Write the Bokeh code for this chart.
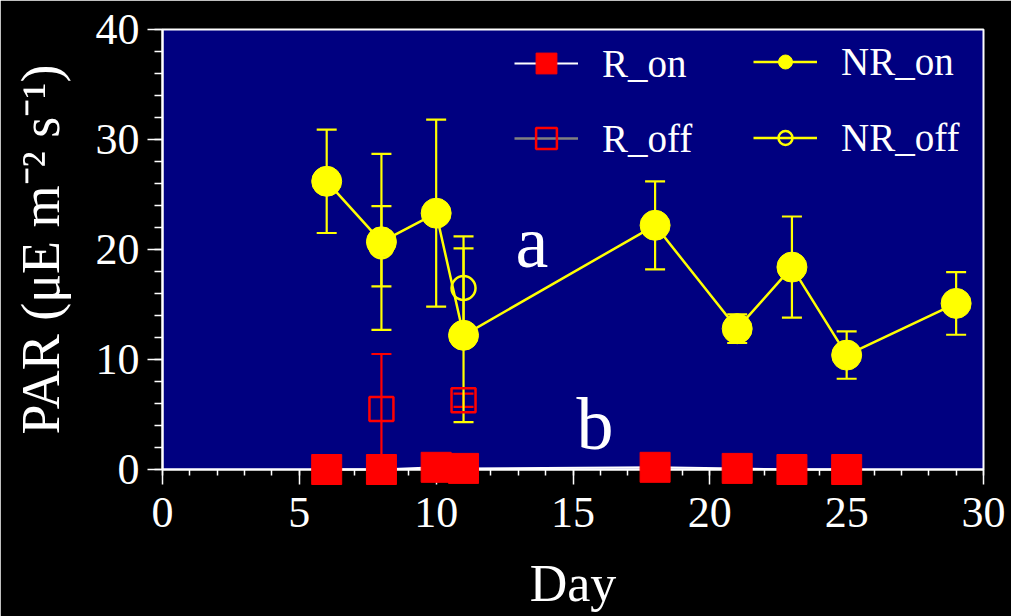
from bokeh.plotting import figure
from bokeh.models import (ColumnDataSource, Range1d, SingleIntervalTicker, Whisker,
                          TeeHead, Legend, LegendItem)
from bokeh.embed import file_html
from bokeh.resources import INLINE
from bokeh.core.properties import value

# ---------------- data ----------------
days_r_on = [6, 8, 10, 11, 18, 21, 23, 25]
par_r_on = [0.0, 0.0, 0.2, 0.1, 0.2, 0.1, 0.0, 0.0]

days_r_off = [8, 11]
par_r_off = [5.5, 6.3]
sd_r_off = [5.0, 0.6]

days_nr_on = [6, 8, 10, 11, 18, 21, 23, 25, 29]
par_nr_on = [26.2, 20.7, 23.3, 12.2, 22.2, 12.8, 18.4, 10.4, 15.1]
sd_nr_on = [4.7, 8.0, 8.5, 7.9, 4.0, 1.3, 4.6, 2.15, 2.85]

days_nr_off = [8, 11]
par_nr_off = [20.3, 16.5]
sd_nr_off = [3.65, 4.7]

series_labels = ["R_on", "R_off", "NR_on", "NR_off"]
letter_x = [13.5, 15.8]
letter_y = [20.7, 4.1]
letters = ["a", "b"]

FONT = "Liberation Serif"
NAVY = "#000080"
NAN = float("nan")


def src(days, vals, sd=None):
    d = dict(x=days, y=vals)
    if sd is not None:
        d["lo"] = [v - s for v, s in zip(vals, sd)]
        d["hi"] = [v + s for v, s in zip(vals, sd)]
    return ColumnDataSource(d)


s_r_on = src(days_r_on, par_r_on)
s_r_off = src(days_r_off, par_r_off, sd_r_off)
s_nr_on = src(days_nr_on, par_nr_on, sd_nr_on)
s_nr_off = src(days_nr_off, par_nr_off, sd_nr_off)

p = figure(width=1011, height=616, x_range=Range1d(0, 30), y_range=Range1d(0, 40),
           output_backend="svg", toolbar_location=None,
           min_border_left=162, min_border_right=28, min_border_top=29, min_border_bottom=147,
           background_fill_color=NAVY, border_fill_color="black",
           outline_line_color="white", outline_line_width=2)
p.grid.visible = False

p.xaxis.ticker = SingleIntervalTicker(interval=5, num_minor_ticks=5)
p.yaxis.ticker = SingleIntervalTicker(interval=10, num_minor_ticks=5)
for ax in (p.xaxis[0], p.yaxis[0]):
    ax.axis_line_color = "white"
    ax.axis_line_width = 2
    ax.major_tick_line_color = "white"
    ax.major_tick_line_width = 1.5
    ax.minor_tick_line_color = "white"
    ax.minor_tick_line_width = 1.5
    ax.major_tick_in = 0
    ax.minor_tick_in = 0
    ax.major_tick_out = 15
    ax.major_label_text_color = "white"
    ax.major_label_text_font = FONT
    ax.major_label_text_font_size = "44px"
    ax.axis_label_text_color = "white"
    ax.axis_label_text_font = FONT
    ax.axis_label_text_font_size = "52px"
    ax.axis_label_text_font_style = "normal"
p.xaxis.minor_tick_out = 6
p.yaxis.minor_tick_out = 8
p.xaxis.major_label_standoff = 13
p.yaxis.major_label_standoff = 8
p.xaxis.axis_label_standoff = 25
p.yaxis.axis_label_standoff = 22
p.xaxis.axis_label = "Day"
p.yaxis.axis_label = "PAR (\u03bcE m\u207b\u00b2 s\u207b\u00b9)"
p.yaxis.axis_label_text_font_size = "54px"


def whisker(source, color):
    w = Whisker(source=source, base="x", lower="lo", upper="hi",
                line_color=color, line_width=2.2,
                upper_head=TeeHead(size=20, line_color=color, line_width=2.2),
                lower_head=TeeHead(size=20, line_color=color, line_width=2.2))
    p.add_layout(w)


whisker(s_r_off, "red")
whisker(s_nr_off, "yellow")
whisker(s_nr_on, "yellow")

# NR series
nr_on_line = p.line("x", "y", source=s_nr_on, line_color="yellow", line_width=2.5)
nr_on_pts = p.scatter("x", "y", source=s_nr_on, marker="circle", size=30,
                      fill_color="yellow", line_color="yellow")
nr_off_pts = p.scatter("x", "y", source=s_nr_off, marker="circle", size=24,
                       fill_color=None, line_color="yellow", line_width=2.5)
nr_off_leg = p.line(x=[NAN, NAN], y=[NAN, NAN], line_color="yellow", line_width=2.5)

# R series
r_off_pts = p.scatter("x", "y", source=s_r_off, marker="square", size=24,
                      fill_color=None, line_color="red", line_width=2.5)
r_off_leg = p.line(x=[NAN, NAN], y=[NAN, NAN], line_color="gray", line_width=2.5)
r_on_line = p.line("x", "y", source=s_r_on, line_color="white", line_width=2, level="overlay")
r_on_pts = p.scatter("x", "y", source=s_r_on, marker="square", size=30,
                     fill_color="red", line_color="red", level="overlay")

p.text(x=letter_x, y=letter_y, text=letters, text_font=value(FONT), text_font_size="74px",
       text_color="white", text_align="center", text_baseline="alphabetic")

common = dict(padding=0, margin=0, glyph_width=64, border_line_color=None,
              background_fill_alpha=0, label_text_color="white", label_text_font=FONT,
              label_text_font_size="39px", label_standoff=24)
leg1 = Legend(items=[LegendItem(label=series_labels[0], renderers=[r_on_line, r_on_pts]),
                     LegendItem(label=series_labels[1], renderers=[r_off_leg, r_off_pts])],
              location=(352, 305), glyph_height=52, label_height=52, spacing=23, **common)
leg2 = Legend(items=[LegendItem(label=series_labels[2], renderers=[nr_on_line, nr_on_pts]),
                     LegendItem(label=series_labels[3], renderers=[nr_off_leg, nr_off_pts])],
              location=(591, 309), glyph_height=35, label_height=44, spacing=31, **common)
p.add_layout(leg1, "center")
p.add_layout(leg2, "center")

open("out.html", "w").write(file_html(p, INLINE))
